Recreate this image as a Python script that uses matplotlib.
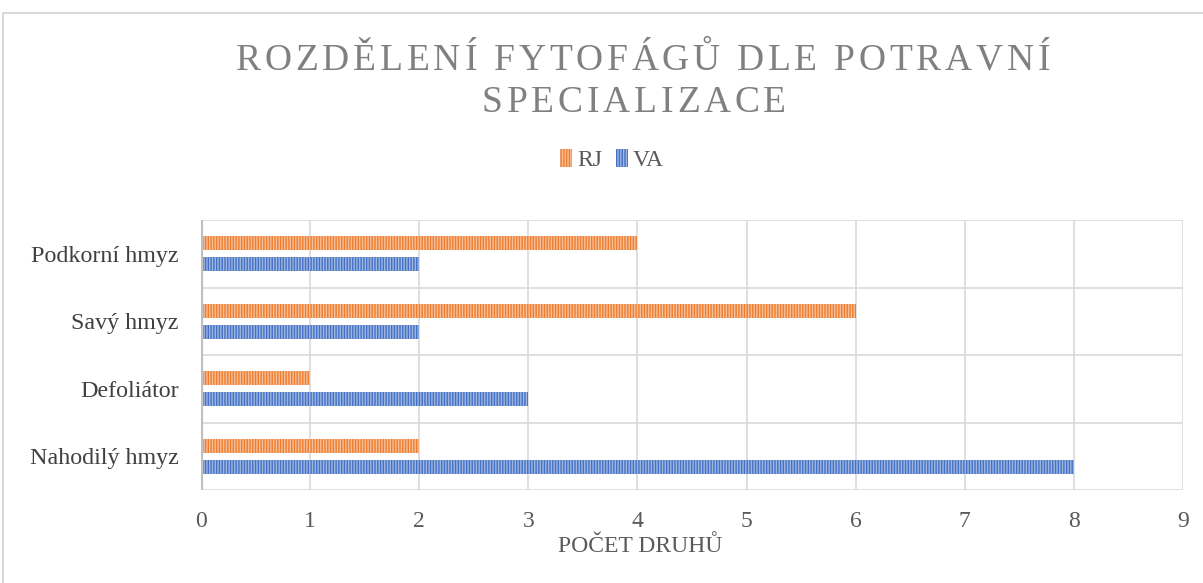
import matplotlib
matplotlib.use('Agg')
from matplotlib import pyplot as plt
from matplotlib.patches import Rectangle
import numpy as np

categories = ['Podkorní hmyz', 'Savý hmyz', 'Defoliátor', 'Nahodilý hmyz']
rj = [4, 6, 1, 2]
va = [2, 2, 3, 8]
series_names = ['RJ', 'VA']
x_ticks = list(range(0, 10))
title_lines = ['ROZDĚLENÍ FYTOFÁGŮ DLE POTRAVNÍ', 'SPECIALIZACE']

orange = '#ED7D31'
blue = '#4472C4'
text_grey = '#595959'
W, H = 1203, 583

plt.rcParams['font.family'] = ['Liberation Serif', 'DejaVu Serif']
plt.rcParams['hatch.linewidth'] = 1.0

fig = plt.figure(figsize=(W/100, H/100), dpi=100, facecolor='white')
ax = fig.add_axes([201/W, 1-490/H, (1183-201)/W, (490-220)/H])

y = np.arange(len(categories))[::-1]
h = 0.21
ax.barh(y + 0.155, rj, height=h, color=orange, edgecolor='#F8BF97', lw=0, hatch='||||||', label=series_names[0], zorder=3)
ax.barh(y - 0.155, va, height=h, color=blue, edgecolor='#9DB5E0', lw=0, hatch='||||||', label=series_names[1], zorder=3)

ax.set_xlim(0, 9)
ax.set_ylim(-0.5, len(categories) - 0.5)
ax.set_xticks(x_ticks)
ax.set_xticklabels([str(t) for t in x_ticks], fontsize=17, color=text_grey)
ax.set_yticks(y)
ax.set_yticklabels(categories, fontsize=17.3, color='#404040')
ax.tick_params(length=0, pad=16)
ax.tick_params(axis='x', pad=15)

# category boundaries and vertical grid
for b in np.arange(-0.5, len(categories), 1.0):
    ax.axhline(b, color='#d9d9d9', lw=1.2, zorder=1)
for t in x_ticks[1:]:
    ax.axvline(t, color='#d9d9d9', lw=1.2, zorder=1)
for s in ax.spines.values():
    s.set_visible(False)
ax.axvline(0, color='#bfbfbf', lw=3, zorder=4)

# letter-spaced title, one glyph per text object
renderer = fig.canvas.get_renderer()
def spaced_line(txt, cx, base_y, size, target_w=None, spacing=None):
    chars = [fig.text(0, 1-base_y/H, c, fontsize=size, color='#808080',
                      ha='left', va='baseline') for c in txt]
    widths = []
    for c, t in zip(txt, chars):
        if c == ' ':
            probe = fig.text(0, 0, 'a a', fontsize=size)
            probe2 = fig.text(0, 0, 'aa', fontsize=size)
            wdt = probe.get_window_extent(renderer).width - probe2.get_window_extent(renderer).width
            probe.remove(); probe2.remove()
        else:
            wdt = t.get_window_extent(renderer).width
        widths.append(wdt)
    if spacing is None:
        spacing = (target_w - sum(widths)) / (len(txt) - 1)
    total = sum(widths) + spacing*(len(txt) - 1)
    x = cx - total/2
    for t, wdt in zip(chars, widths):
        t.set_x(x/W)
        x += wdt + spacing
    return spacing

sp = spaced_line(title_lines[0], 643, 70, 27, target_w=814)
spaced_line(title_lines[1], 634, 112, 27, spacing=sp)

fig.text(640/W, 1-547/H, 'POČET DRUHŮ', ha='center', va='center', fontsize=17, color=text_grey)

leg = fig.legend(loc='center', bbox_to_anchor=(612/W, 1-160/H), ncol=2, frameon=False,
                 fontsize=17, handlelength=0.5, handleheight=0.8, handletextpad=0.2, columnspacing=0.6)
for t in leg.get_texts():
    t.set_color(text_grey)

fig.patches.append(Rectangle((3/W, -0.1), 1.2, 1.1 - 13/H, transform=fig.transFigure,
                             fill=False, edgecolor='#d9d9d9', lw=1.5))

fig.savefig('out.png', dpi=100, facecolor='white')
